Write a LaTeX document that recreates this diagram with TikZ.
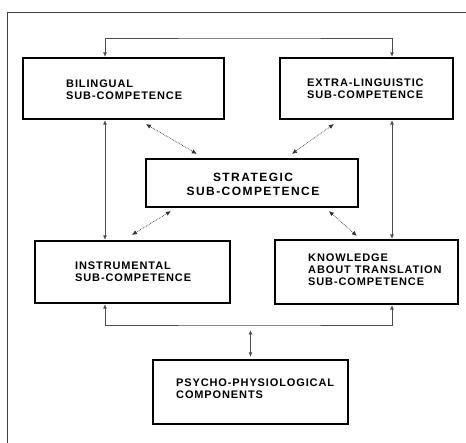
\documentclass[tikz,border=0pt]{standalone}
\usepackage{fontspec}
\setmainfont{Liberation Sans}
\newfontfamily\boxfont[LetterSpace=8]{Liberation Sans}
\newfontfamily\strategicfont[LetterSpace=12]{Liberation Sans}
\usetikzlibrary{arrows.meta}
\begin{document}
\begin{tikzpicture}
[x=1pt,y=-1pt,
  boxdecorate/.style={shape=rectangle,draw,line width=2.2pt,inner sep=0pt},%
  textdecorate/.style={inner sep=0pt,align=left,font=\boxfont\bfseries\fontsize{11}{11.8}\selectfont},%
  linedecorate/.style={draw=black!70,line width=0.8pt,{Latex[length=4.5pt,width=4pt]}-{Latex[length=4.5pt,width=4pt]}},%
  diagdecorate/.style={draw=black!80,line width=0.7pt,densely dotted,{Latex[length=5pt,width=4.5pt]}-{Latex[length=5pt,width=4.5pt]}}]
\useasboundingbox (0,0) rectangle (466,443);
%% frame
\draw[black!75,line width=0.8pt] (7,443) -- (7,12) -- (466,12);
%% boxes
\foreach \nodename/\x/\y/\w/\h in {bilingual/123.5/88.5/201/61, extra/366.5/88.5/173/61,
  strategic/252/183/212/48, instrumental/132.5/272/195/62,
  knowledge/366.5/272/183/64, psycho/250.5/392/195/64} {
  \node (\nodename) at (\x,\y) [boxdecorate,minimum width=\w pt,minimum height=\h pt] {};
}
%% texts
\node (bilingual-t) at (66,90) [textdecorate,anchor=west] {BILINGUAL\\SUB-COMPETENCE};
\node (extra-t) at (307,89) [textdecorate,anchor=west] {EXTRA-LINGUISTIC\\SUB-COMPETENCE};
\node (strategic-t) at (253,184) [textdecorate,align=center,font=\strategicfont\bfseries\fontsize{12}{14}\selectfont] {STRATEGIC\\SUB-COMPETENCE};
\node (instrumental-t) at (75,272) [textdecorate,anchor=west] {INSTRUMENTAL\\SUB-COMPETENCE};
\node (knowledge-t) at (308,270) [textdecorate,anchor=west] {KNOWLEDGE\\ABOUT TRANSLATION\\SUB-COMPETENCE};
\node (psycho-t) at (176,389) [textdecorate,anchor=west] {PSYCHO-PHYSIOLOGICAL\\COMPONENTS};
%% connector columns and bars
\coordinate (leftcol) at (105,0);
\coordinate (rightcol) at (392,0);
\coordinate (topbar) at (250,38);
\coordinate (bottombar) at (250,325);
\coordinate (psychoarrow) at (250.5,330);
%% edges or lines
\draw[linedecorate] (bilingual.north -| leftcol) |- (topbar) -| (extra.north -| rightcol);
\draw[linedecorate] (instrumental.south -| leftcol) |- (bottombar) -| (knowledge.south -| rightcol);
\draw[linedecorate] (bilingual.south -| leftcol) -- (instrumental.north -| leftcol);
\draw[linedecorate] (extra.south -| rightcol) -- (knowledge.north -| rightcol);
\draw[linedecorate,shorten >=2pt] (psychoarrow) -- (psycho.north);
%% diagonal links round the strategic box
\draw[diagdecorate] ([shift={(124,4)}]bilingual.south west) -- ([shift={(52,-4)}]strategic.north west);
\draw[diagdecorate] ([shift={(55,4)}]extra.south west) -- ([shift={(147,-4)}]strategic.north west);
\draw[diagdecorate] ([shift={(26,3)}]strategic.south west) -- ([shift={(98,-5)}]instrumental.north west);
\draw[diagdecorate] ([shift={(184,3)}]strategic.south west) -- ([shift={(83,-3)}]knowledge.north west);
\end{tikzpicture}
\end{document}
